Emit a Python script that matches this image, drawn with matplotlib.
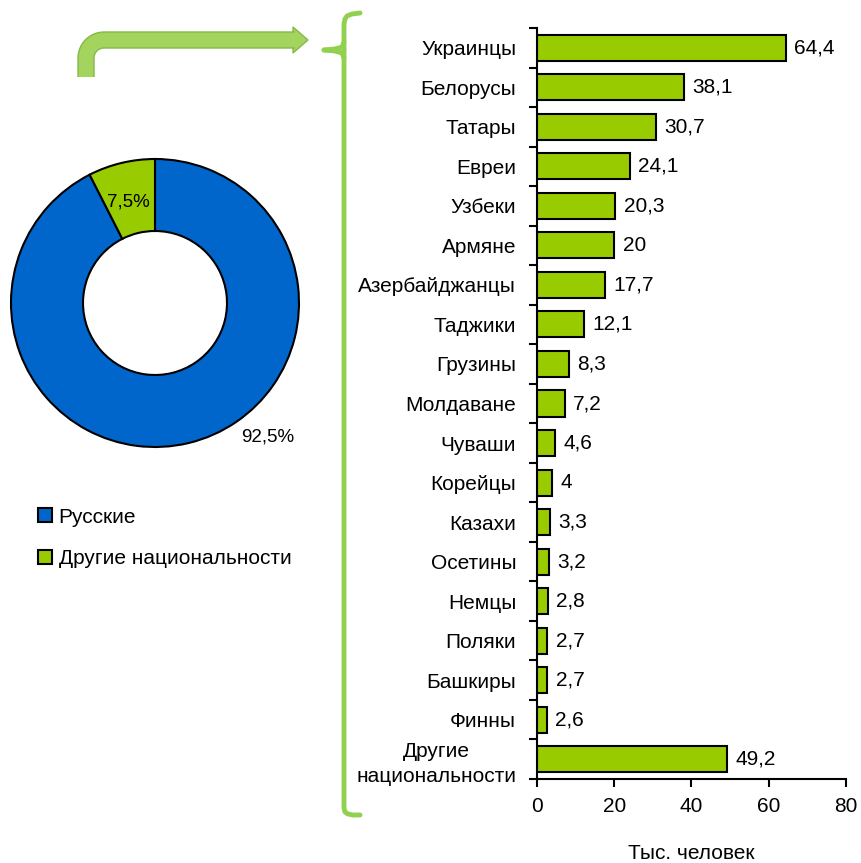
import matplotlib
matplotlib.use("Agg")
import matplotlib.pyplot as plt
import numpy as np
from matplotlib.lines import Line2D
from matplotlib.patches import Polygon

plt.rcParams['font.family'] = ['Liberation Sans', 'DejaVu Sans']

# ---- data ----
nationalities = ["Украинцы", "Белорусы", "Татары", "Евреи", "Узбеки", "Армяне",
                 "Азербайджанцы", "Таджики", "Грузины", "Молдаване", "Чуваши",
                 "Корейцы", "Казахи", "Осетины", "Немцы", "Поляки", "Башкиры",
                 "Финны", "Другие\nнациональности"]
counts = [64.4, 38.1, 30.7, 24.1, 20.3, 20, 17.7, 12.1, 8.3, 7.2, 4.6,
          4, 3.3, 3.2, 2.8, 2.7, 2.7, 2.6, 49.2]
pie_labels = ["Русские", "Другие национальности"]
pie_values = [92.5, 7.5]
pie_texts = ["92,5%", "7,5%"]
x_ticks = [0, 20, 40, 60, 80]
x_label = "Тыс. человек"

BLUE = "#0066CC"
GREEN = "#99CC00"
LGREEN = "#92D050"
FS = 15

W, H = 862, 863
fig = plt.figure(figsize=(W / 100, H / 100), dpi=100)

def fx(px):
    return px / W

def fy(py):
    return 1 - py / H

# ---- bar chart ----
left, right, top, bottom = 537, 846, 28, 779
ax = fig.add_axes([fx(left), fy(bottom), fx(right - left), (bottom - top) / H])
n = len(nationalities)
ypos = np.arange(n)
ax.barh(ypos, counts, height=0.66, color=GREEN, edgecolor="black", linewidth=1.5)
ax.set_ylim(n - 0.5, -0.5)
ax.set_xlim(0, 80)
ax.set_xticks(x_ticks)
ax.set_xticklabels([str(t) for t in x_ticks], fontsize=FS)
ax.set_yticks(ypos)
ax.set_yticklabels(nationalities, fontsize=FS, multialignment="center", linespacing=1.4)
ax.set_yticks(np.arange(n + 1) - 0.5, minor=True)
ax.tick_params(axis="y", which="major", length=0, pad=15)
ax.tick_params(axis="y", which="minor", length=6, width=1.5, direction="out")
ax.tick_params(axis="x", length=6, width=1.5, direction="out", pad=7)
for s in ["top", "right"]:
    ax.spines[s].set_visible(False)
for s in ["left", "bottom"]:
    ax.spines[s].set_linewidth(1.5)
for y, v in zip(ypos, counts):
    ax.annotate(f"{v:g}".replace(".", ","), xy=(v, y), xytext=(6, 0),
                textcoords="offset points", va="center", ha="left", fontsize=FS)
ax.set_xlabel(x_label, fontsize=FS, labelpad=20)

# ---- donut ----
cx, cy, r = 155, 303, 144
pax = fig.add_axes([fx(cx - r), fy(cy + r), fx(2 * r), 2 * r / H])
wedges, _ = pax.pie(pie_values, colors=[BLUE, GREEN], startangle=90,
                    counterclock=False, radius=1.0,
                    wedgeprops=dict(width=0.5, edgecolor="black", linewidth=1.5),
                    labels=None)
pax.set_xlim(-1, 1)
pax.set_ylim(-1, 1)
pax.set_aspect("equal")
fig.text(fx(128), fy(202), pie_texts[1], ha="center", va="center", fontsize=13.5)
fig.text(fx(268), fy(437), pie_texts[0], ha="center", va="center", fontsize=13.5)

# legend
leg = fig.legend(handles=[
    Line2D([], [], marker="s", linestyle="none", markersize=10.5,
           markerfacecolor=c, markeredgecolor="black", markeredgewidth=1.5)
    for c in [BLUE, GREEN]], labels=pie_labels,
    loc="center left", bbox_to_anchor=(fx(16), fy(538)), frameon=False,
    fontsize=FS, handletextpad=0.15, labelspacing=1.1, handlelength=1.0)

# ---- arrow (connector) ----
def P(px, py):
    return (fx(px), fy(py))

cr = 18
xv, yh = 86, 40
t = np.linspace(np.pi, np.pi / 2, 14)
arc_x = xv + cr + cr * np.cos(t)
arc_y = yh + cr - cr * np.sin(t)
xs = [xv] + list(arc_x) + [295]
ys = [77] + list(arc_y) + [yh]
pts = [P(a, b) for a, b in zip(xs, ys)]
for lw, col in [(12.5, "#86B84A"), (10.5, "#A2D45E")]:
    fig.add_artist(Line2D([p[0] for p in pts], [p[1] for p in pts], lw=lw,
                          color=col, solid_capstyle="butt", solid_joinstyle="round",
                          transform=fig.transFigure))
fig.add_artist(Polygon([P(293, 27), P(308, 40), P(293, 53)], closed=True,
                       facecolor="#A2D45E", edgecolor="#86B84A", linewidth=1,
                       transform=fig.transFigure))

# ---- curly bracket ----
bx = 344
br_x = [360, 352, 347, 345, bx, bx, bx]
br_y = [13, 14, 16, 19, 24, 43, 50]
fig.add_artist(Line2D([fx(v) for v in br_x], [fy(v) for v in br_y], lw=3.5,
                      color=LGREEN, solid_capstyle="round", transform=fig.transFigure))
fig.add_artist(Line2D([fx(v) for v in [324, 335, 342, bx]], [fy(v) for v in [50, 49, 47, 42]],
                      lw=3.5, color=LGREEN, solid_capstyle="round", transform=fig.transFigure))
fig.add_artist(Line2D([fx(v) for v in [324, 335, 342, bx]], [fy(v) for v in [50, 51, 53, 58]],
                      lw=3.5, color=LGREEN, solid_capstyle="round", transform=fig.transFigure))
fig.add_artist(Line2D([fx(v) for v in [bx, bx, 345, 348, 353, 360]],
                      [fy(v) for v in [50, 808, 812, 814, 815, 815]], lw=3.5,
                      color=LGREEN, solid_capstyle="round", transform=fig.transFigure))

fig.savefig("out.png", dpi=100)
